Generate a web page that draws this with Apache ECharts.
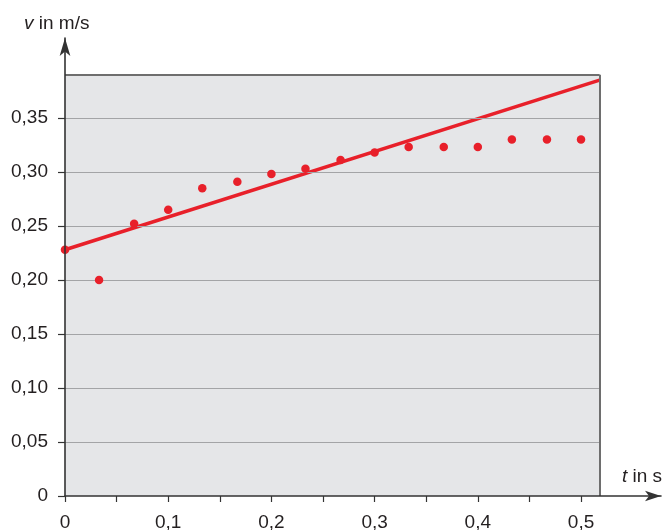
<!DOCTYPE html>
<html>
<head>
<meta charset="utf-8">
<style>
  html, body { margin: 0; padding: 0; background: #ffffff; }
  #chart { width: 663px; height: 530px; }
</style>
<script src="https://cdn.jsdelivr.net/npm/echarts@6/dist/echarts.min.js"></script>
</head>
<body>
<div id="chart"></div>
<script>
// Measured speed v (m/s) over time t (s), frames every 1/30 s
const timeValues = [0, 0.033, 0.067, 0.1, 0.133, 0.167, 0.2, 0.233, 0.267, 0.3, 0.333, 0.367, 0.4, 0.433, 0.467, 0.5];
const speedValues = [0.228, 0.200, 0.252, 0.265, 0.285, 0.291, 0.298, 0.303, 0.311, 0.318, 0.323, 0.323, 0.323, 0.330, 0.330, 0.330];

// Fitted straight line (start and end of the drawn segment)
const fitT = [0, 0.518];
const fitV = [0.228, 0.385];

// Axis ticks and labels
const xTickValues = [0, 0.05, 0.1, 0.15, 0.2, 0.25, 0.3, 0.35, 0.4, 0.45, 0.5];
const xLabelValues = [0, 0.1, 0.2, 0.3, 0.4, 0.5];
const yTickValues = [0, 0.05, 0.1, 0.15, 0.2, 0.25, 0.3, 0.35];
const yGridValues = [0.05, 0.1, 0.15, 0.2, 0.25, 0.3, 0.35];

// Extent of the shaded plot frame and of the arrowed axes
const frameT = 0.518;
const frameV = 0.39;
const axisMaxT = 0.5775;
const axisMaxV = 0.424;

const RED = '#e8202a';
const INK = '#231f20';
const FONT = '"Liberation Sans", Arial, Helvetica, sans-serif';
const FS = 19;

const chart = echarts.init(document.getElementById('chart'), null, { renderer: 'canvas' });

const fmtComma = (v, digits) => v === 0 ? '0' : v.toFixed(digits).replace('.', ',');

const gridLines = yGridValues.map(v => [{ coord: [0, v] }, { coord: [frameT, v] }]);

const titleStyle = {
  fontFamily: FONT, fontSize: FS, fontWeight: 'normal', color: INK,
  rich: { i: { fontFamily: FONT, fontSize: FS, fontStyle: 'italic', color: INK } }
};

const option = {
  animation: false,
  backgroundColor: '#ffffff',
  textStyle: { fontFamily: FONT },
  title: [
    { text: '{i|v} in m/s', left: 19, top: 9, textStyle: titleStyle },
    { text: '{i|t} in s', left: 617, top: 462, textStyle: titleStyle }
  ],
  grid: { left: 65, right: 2, top: 38, bottom: 34, containLabel: false, outerBoundsMode: 'none' },
  xAxis: {
    type: 'value',
    min: 0, max: axisMaxT,
    z: 10,
    axisLine: {
      show: true, onZero: false,
      symbol: ['none', 'arrow'], symbolSize: [8, 16], symbolOffset: [0, 0],
      lineStyle: { color: '#333333', width: 1.6 }
    },
    axisTick: { show: true, customValues: xTickValues, length: 6, inside: false, lineStyle: { color: '#333333', width: 1.2 } },
    axisLabel: {
      customValues: xLabelValues, margin: 17,
      fontFamily: FONT, fontSize: FS, color: INK,
      formatter: v => fmtComma(v, 1)
    },
    splitLine: { show: false }
  },
  yAxis: {
    type: 'value',
    min: 0, max: axisMaxV,
    z: 10,
    axisLine: {
      show: true, onZero: false,
      symbol: ['none', 'arrow'], symbolSize: [8, 18], symbolOffset: [0, 0],
      lineStyle: { color: '#333333', width: 1.6 }
    },
    axisTick: { show: true, customValues: yTickValues, length: 7, inside: false, lineStyle: { color: '#333333', width: 1.2 } },
    axisLabel: {
      customValues: yTickValues, margin: 17,
      fontFamily: FONT, fontSize: FS, color: INK,
      formatter: v => fmtComma(v, 2)
    },
    splitLine: { show: false }
  },
  series: [
    {
      // shaded frame, horizontal grid lines and dark top/right border
      type: 'line',
      data: [],
      silent: true,
      z: 1,
      markArea: {
        silent: true,
        itemStyle: { color: '#e5e6e8' },
        data: [[{ coord: [0, 0] }, { coord: [frameT, frameV] }]]
      },
      markLine: {
        silent: true,
        symbol: ['none', 'none'],
        label: { show: false },
        lineStyle: { color: '#a3a4a6', width: 1.2, type: 'solid' },
        data: gridLines.concat([
          [{ coord: [0, frameV], lineStyle: { color: '#6e6e6e', width: 2 } }, { coord: [frameT, frameV] }],
          [{ coord: [frameT, 0], lineStyle: { color: '#6e6e6e', width: 2 } }, { coord: [frameT, frameV] }]
        ])
      }
    },
    {
      type: 'line',
      data: fitT.map((t, i) => [t, fitV[i]]),
      showSymbol: false,
      lineStyle: { color: RED, width: 3.5 },
      z: 4
    },
    {
      type: 'scatter',
      data: timeValues.map((t, i) => [t, speedValues[i]]),
      symbol: 'circle',
      symbolSize: 8.5,
      itemStyle: { color: RED, opacity: 1 },
      z: 5
    }
  ]
};

chart.setOption(option);
</script>
</body>
</html>
